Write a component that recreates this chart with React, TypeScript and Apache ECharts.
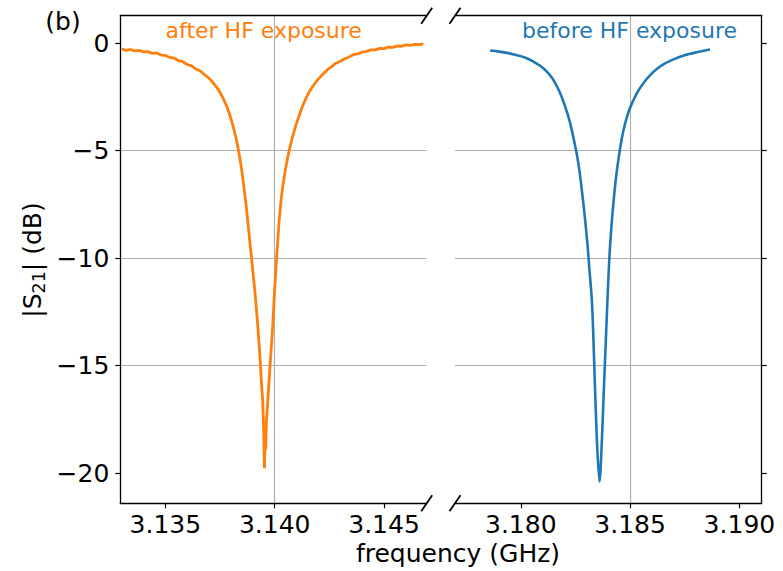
import React, { useEffect, useRef } from "react";
import * as echarts from "echarts";

// after HF exposure (orange)
const orangeFreq = [
  3.133, 3.1332, 3.1334, 3.1336, 3.1338, 3.134, 3.1342, 3.1344, 3.1346, 3.1348,
  3.135, 3.1352, 3.1354, 3.1356, 3.1358, 3.136, 3.1362, 3.1364, 3.1366, 3.1368,
  3.137, 3.1372, 3.1374, 3.1376, 3.1378, 3.1379, 3.138, 3.1381, 3.1382, 3.1383, 3.1384,
  3.1385, 3.1386, 3.1387, 3.1388, 3.1389, 3.139, 3.1391, 3.1392, 3.1393, 3.13935,
  3.1394, 3.13945, 3.1395, 3.13953, 3.13956, 3.13959, 3.13962, 3.1397, 3.1398, 3.1399,
  3.14, 3.1401, 3.1402, 3.1403, 3.1404, 3.1405, 3.1406, 3.1407, 3.1408, 3.1409,
  3.141, 3.1411, 3.1412, 3.1413, 3.1414, 3.1415, 3.1416, 3.1418, 3.142, 3.1422, 3.1424, 3.1426, 3.1428,
  3.143, 3.1432, 3.1434, 3.1436, 3.1438, 3.144, 3.1442, 3.1444, 3.1446, 3.1448,
  3.145, 3.1452, 3.1454, 3.1456, 3.1458, 3.146, 3.1462, 3.1464, 3.1466, 3.1468,
];
const orangeS21 = [
  -0.27, -0.33, -0.29, -0.36, -0.33, -0.4, -0.39, -0.47, -0.45, -0.55,
  -0.57, -0.66, -0.69, -0.81, -0.86, -0.99, -1.05, -1.2, -1.29, -1.47,
  -1.63, -1.86, -2.12, -2.47, -2.92, -3.2, -3.52, -3.87, -4.27, -4.75, -5.3,
  -5.95, -6.75, -7.6, -8.6, -9.6, -10.6, -11.6, -12.8, -14.2, -15.0,
  -15.9, -16.6, -18.2, -19.77, -18.6, -18.9, -17.6, -16.4, -14.8, -13.3,
  -11.4, -9.8, -8.3, -7.2, -6.45, -5.82, -5.28, -4.82, -4.42, -4.05,
  -3.72, -3.42, -3.12, -2.86, -2.63, -2.42, -2.22, -1.92, -1.66, -1.44, -1.24, -1.09, -0.93,
  -0.84, -0.72, -0.64, -0.53, -0.5, -0.41, -0.38, -0.31, -0.31, -0.24,
  -0.25, -0.18, -0.19, -0.13, -0.14, -0.08, -0.1, -0.05, -0.07, -0.03,
];

// before HF exposure (blue)
const blueFreq = [
  3.1786, 3.179, 3.17936, 3.1797, 3.18, 3.1803, 3.18058, 3.1809, 3.18119, 3.18145,
  3.18165, 3.18185, 3.18203, 3.1822, 3.18233, 3.18245, 3.18256, 3.18268, 3.18279, 3.1829,
  3.18299, 3.18307, 3.18314, 3.18325, 3.18332, 3.1834, 3.1835, 3.1836, 3.18371, 3.18378,
  3.18386, 3.18393, 3.18404, 3.18414, 3.18424, 3.18435, 3.18446, 3.18457, 3.18469, 3.18485,
  3.185, 3.1852, 3.18538, 3.18565, 3.18592, 3.18625, 3.1866, 3.18705, 3.18752, 3.1881,
  3.18866,
];
const blueS21 = [
  -0.34, -0.39, -0.45, -0.52, -0.6, -0.71, -0.86, -1.06, -1.32, -1.64,
  -2.0, -2.44, -2.95, -3.5, -4.03, -4.6, -5.15, -5.9, -6.82, -7.8,
  -8.7, -9.6, -10.54, -11.94, -13.7, -16.2, -18.9, -20.39, -18.45, -16.6,
  -14.58, -12.8, -10.2, -8.6, -7.4, -6.3, -5.45, -4.72, -4.08, -3.45,
  -3.0, -2.55, -2.2, -1.8, -1.48, -1.18, -0.94, -0.73, -0.55, -0.41,
  -0.29,
];

const xTicksLeft = [3.135, 3.14, 3.145];
const xTicksRight = [3.18, 3.185, 3.19];
const yTicks = [0, -5, -10, -15, -20];

const FONT = "DejaVu Sans";
const GRID_COLOR = "#b0b0b0";

export default function App() {
  const ref = useRef<HTMLDivElement>(null);
  useEffect(() => {
    if (!ref.current) return;
    const chart = echarts.init(ref.current, undefined, { renderer: "svg" });
    const fmtY = (v: number) => (v < 0 ? "\u2212" + Math.abs(v) : String(v));
    const top = 15.7;
    const height = 487.6;
    const bottom = top + height;
    const xBase = (gridIndex: number, min: number, max: number, ticks: number[]) => ({
      type: "value",
      gridIndex,
      min,
      max,
      splitNumber: 3,
      position: "bottom",
      axisLine: { show: true, onZero: false, lineStyle: { color: "#000", width: 1.3 } },
      axisTick: { show: true, customValues: ticks, length: 5, lineStyle: { color: "#000", width: 1.2 } },
      axisLabel: {
        show: true,
        customValues: ticks,
        formatter: (v: number) => v.toFixed(3),
        fontFamily: FONT,
        fontSize: 25,
        color: "#000",
        margin: 9,
      },
      splitLine: { show: true, showMinLine: false, showMaxLine: false, lineStyle: { color: GRID_COLOR, width: 1.2 } },
    });
    const xTop = (gridIndex: number, min: number, max: number) => ({
      type: "value",
      gridIndex,
      min,
      max,
      position: "top",
      axisLine: { show: true, onZero: false, lineStyle: { color: "#000", width: 1.3 } },
      axisTick: { show: false },
      axisLabel: { show: false },
      splitLine: { show: false },
    });
    const yAx = (gridIndex: number, position: string, labels: boolean) => ({
      type: "value",
      gridIndex,
      min: -21.4,
      max: 1.28,
      position,
      axisLine: { show: true, onZero: false, lineStyle: { color: "#000", width: 1.3 } },
      axisTick: { show: true, customValues: yTicks, length: 5, lineStyle: { color: "#000", width: 1.2 } },
      axisLabel: {
        show: labels,
        customValues: yTicks,
        formatter: fmtY,
        fontFamily: FONT,
        fontSize: 25,
        color: "#000",
        margin: 11,
      },
      splitLine: { show: true, showMinLine: false, showMaxLine: false, lineStyle: { color: GRID_COLOR, width: 1.2 } },
    });
    const brk = (cx: number, cy: number) => ({
      type: "line",
      shape: { x1: cx - 5.5, y1: cy + 8, x2: cx + 5.5, y2: cy - 8 },
      style: { stroke: "#000", lineWidth: 1.8 },
      z: 100,
    });
    chart.setOption({
      animation: false,
      backgroundColor: "#fff",
      grid: [
        { left: 120.3, top, width: 306.4, height },
        { left: 455, top, width: 306.7, height },
      ],
      xAxis: [
        xBase(0, 3.13294, 3.14695, xTicksLeft),
        xBase(1, 3.17699, 3.19102, xTicksRight),
        xTop(0, 3.13294, 3.14695),
        xTop(1, 3.17699, 3.19102),
      ],
      yAxis: [yAx(0, "left", true), yAx(1, "right", false)],
      series: [
        {
          type: "line",
          xAxisIndex: 0,
          yAxisIndex: 0,
          data: orangeFreq.map((f, i) => [f, orangeS21[i]]),
          showSymbol: false,
          symbol: "none",
          lineStyle: { color: "#ff7f0e", width: 2.8 },
          itemStyle: { color: "#ff7f0e" },
          z: 5,
        },
        {
          type: "line",
          xAxisIndex: 1,
          yAxisIndex: 1,
          data: blueFreq.map((f, i) => [f, blueS21[i]]),
          showSymbol: false,
          symbol: "none",
          smooth: 0.3,
          lineStyle: { color: "#1f77b4", width: 2.6 },
          itemStyle: { color: "#1f77b4" },
          z: 5,
        },
      ],
      graphic: [
        brk(426.7, top),
        brk(426.7, bottom),
        brk(455, top),
        brk(455, bottom),
        {
          type: "text",
          x: 63,
          y: 21,
          style: { text: "(b)", font: `25px '${FONT}'`, fill: "#000", textAlign: "center", textVerticalAlign: "middle" },
        },
        {
          type: "text",
          x: 263.7,
          y: 30,
          style: { text: "after HF exposure", font: `22px '${FONT}'`, fill: "#ff7f0e", textAlign: "center", textVerticalAlign: "middle" },
          z: 50,
        },
        {
          type: "text",
          x: 629.5,
          y: 30,
          style: { text: "before HF exposure", font: `22px '${FONT}'`, fill: "#1f77b4", textAlign: "center", textVerticalAlign: "middle" },
          z: 50,
        },
        {
          type: "text",
          x: 458,
          y: 553,
          style: { text: "frequency (GHz)", font: `25px '${FONT}'`, fill: "#000", textAlign: "center", textVerticalAlign: "middle" },
        },
        {
          type: "text",
          x: 32,
          y: 260,
          rotation: Math.PI / 2,
          style: {
            text: "{n||S}{s|21}{n|| (dB)}",
            textAlign: "center",
            textVerticalAlign: "middle",
            fill: "#000",
            rich: {
              n: { fontFamily: FONT, fontSize: 25, lineHeight: 32, verticalAlign: "middle", fill: "#000" },
              s: { fontFamily: FONT, fontSize: 17.5, lineHeight: 17.5, verticalAlign: "bottom", fill: "#000" },
            },
          },
        },
      ],
    });
    return () => chart.dispose();
  }, []);
  return (
    <div
      ref={ref}
      style={{ position: "fixed", left: 0, top: 0, width: 783, height: 571 }}
    />
  );
}
